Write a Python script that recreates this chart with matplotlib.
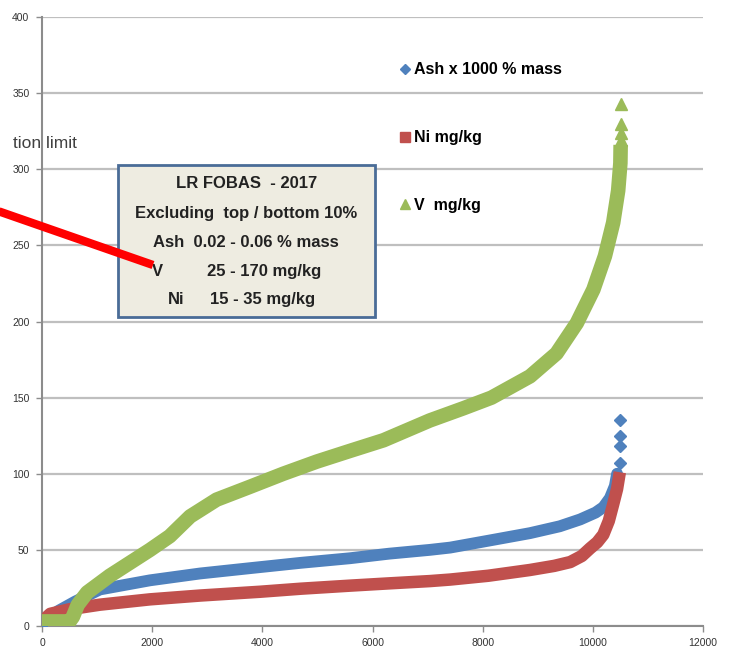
import matplotlib
matplotlib.use('Agg')
import matplotlib.pyplot as plt
from matplotlib.lines import Line2D
from matplotlib.patches import Rectangle
import numpy as np

# Values (sample rank -> value)
ash_x = [0, 150, 300, 600, 1050, 1960, 2870, 3780, 4700, 5590, 6300, 7040, 7410, 8100, 8860,
         9400, 9770, 10050, 10190, 10310, 10400, 10440]
ash_y = [0, 6, 10, 16, 24, 30, 34.5, 38, 41.5, 44.5, 47.5, 50, 51.5, 56, 61,
         65.5, 70, 74.5, 78, 84, 92, 100]
ash_out_x = [10500, 10500, 10500, 10500]
ash_out_y = [107, 118, 125, 135]

ni_x = [0, 150, 500, 1050, 1960, 2870, 3960, 4700, 5590, 6300, 7040, 7410, 8100, 8860,
        9300, 9590, 9800, 9950, 10080, 10190, 10290, 10370, 10440, 10490]
ni_y = [3, 8, 11, 14, 17.5, 20, 22.5, 24.5, 26.5, 28, 29.5, 30.5, 33, 36.8,
        39.5, 42, 46, 51, 55, 60, 69, 80, 90, 101]

v_x = [0, 500, 560, 650, 820, 1230, 1960, 2320, 2690, 3170, 3780, 4380, 4990, 5590, 6200,
       7040, 7650, 8160, 8860, 9340, 9710, 10010, 10220, 10370, 10460, 10500, 10505]
v_y = [3, 3, 6, 14, 22, 33, 50, 59, 72, 83, 91.5, 100, 108, 115, 122,
       135, 143, 150, 164, 179, 199, 221, 243, 265, 286, 304, 316]
v_out_x = [10505, 10505, 10505, 10505]
v_out_y = [319, 324, 330, 343]

labels = ['Ash x 1000 % mass', 'Ni mg/kg', 'V  mg/kg']
box_lines = ['LR FOBAS  - 2017', 'Excluding  top / bottom 10%', 'Ash  0.02 - 0.06 % mass']
box_pairs = [('V', '25 - 170 mg/kg'), ('Ni', '15 - 35 mg/kg')]

c_ash = '#4F81BD'
c_ni = '#C0504D'
c_v = '#9BBB59'
bold = ['Liberation Sans Narrow', 'Liberation Sans', 'DejaVu Sans']

fig = plt.figure(figsize=(7.31, 6.53), dpi=100)
ax = fig.add_axes([42/731, 27/653, 661/731, 609/653])

# series drawn as thick marker bands
ax.plot(ash_x, ash_y, color=c_ash, lw=8.5, solid_capstyle='round', solid_joinstyle='round', zorder=3)
ax.plot(ash_out_x, ash_out_y, 'D', color=c_ash, ms=6, ls='none', zorder=3)
ax.plot([0], [0], 'D', color=c_ash, ms=5, zorder=3)
ax.plot(ni_x, ni_y, color=c_ni, lw=9, solid_capstyle='butt', solid_joinstyle='round', zorder=4)
ax.plot(v_x, v_y, color=c_v, lw=10.5, solid_capstyle='butt', solid_joinstyle='round', zorder=5)
ax.plot(v_out_x, v_out_y, '^', color=c_v, ms=9, ls='none', zorder=5)

ax.set_xlim(0, 12000)
ax.set_ylim(0, 400)
ax.set_xticks(np.arange(0, 12001, 2000))
ax.set_yticks(np.arange(0, 401, 50))
ax.grid(axis='y', color='#BFBFBF', lw=1.6)
ax.set_axisbelow(True)
for s in ['top', 'right']:
    ax.spines[s].set_visible(False)
for s in ['left', 'bottom']:
    ax.spines[s].set_color('#8C8C8C')
    ax.spines[s].set_linewidth(1.5)
ax.tick_params(axis='both', length=4, width=1, color='#8C8C8C', labelsize=7.5,
               labelcolor='#333333', pad=5)
for t in ax.get_xticklabels() + ax.get_yticklabels():
    t.set_fontfamily('Liberation Sans')

# legend
handles = [Line2D([], [], marker='D', color=c_ash, ls='none', ms=5),
           Line2D([], [], marker='s', color=c_ni, ls='none', ms=7),
           Line2D([], [], marker='^', color=c_v, ls='none', ms=7)]
leg = ax.legend(handles, labels, loc='upper left', bbox_to_anchor=(0.52, 0.949),
                frameon=False, labelspacing=3.3, handlelength=0.6, handletextpad=0.3,
                prop={'family': bold, 'weight': 'bold', 'size': 11.5})

# text box
ax.add_patch(Rectangle((0.115, 0.507), 0.389, 0.2496, transform=ax.transAxes,
                       fc='#EEECE1', ec='#4A6C97', lw=2, zorder=6))
ys = [0.727, 0.677, 0.629]
for y, s in zip(ys, box_lines):
    ax.text(0.309, y, s, transform=ax.transAxes, ha='center', va='center', zorder=7,
            fontfamily=bold, fontweight='bold', fontsize=12, color='#222222')
for y, (a, b), xa, xb in zip([0.582, 0.536], box_pairs, [0.174, 0.203], [0.250, 0.254]):
    ax.text(xa, y, a, transform=ax.transAxes, ha='center', va='center', zorder=7,
            fontfamily=bold, fontweight='bold', fontsize=12, color='#222222')
    ax.text(xb, y, b, transform=ax.transAxes, ha='left', va='center', zorder=7,
            fontfamily=bold, fontweight='bold', fontsize=12, color='#222222')

# red pointer line and cut-off label from the slide
fig.add_artist(Line2D([-5/731, 153/731], [1 - 210/653, 1 - 265/653], color='#FF0000',
                      lw=6, solid_capstyle='butt', zorder=8))
fig.text(77/731, 1 - 143/653, 'tion limit', ha='right', va='center',
         fontfamily='Liberation Sans', fontsize=12.5, color='#404040')

fig.savefig('out.png', dpi=100)
